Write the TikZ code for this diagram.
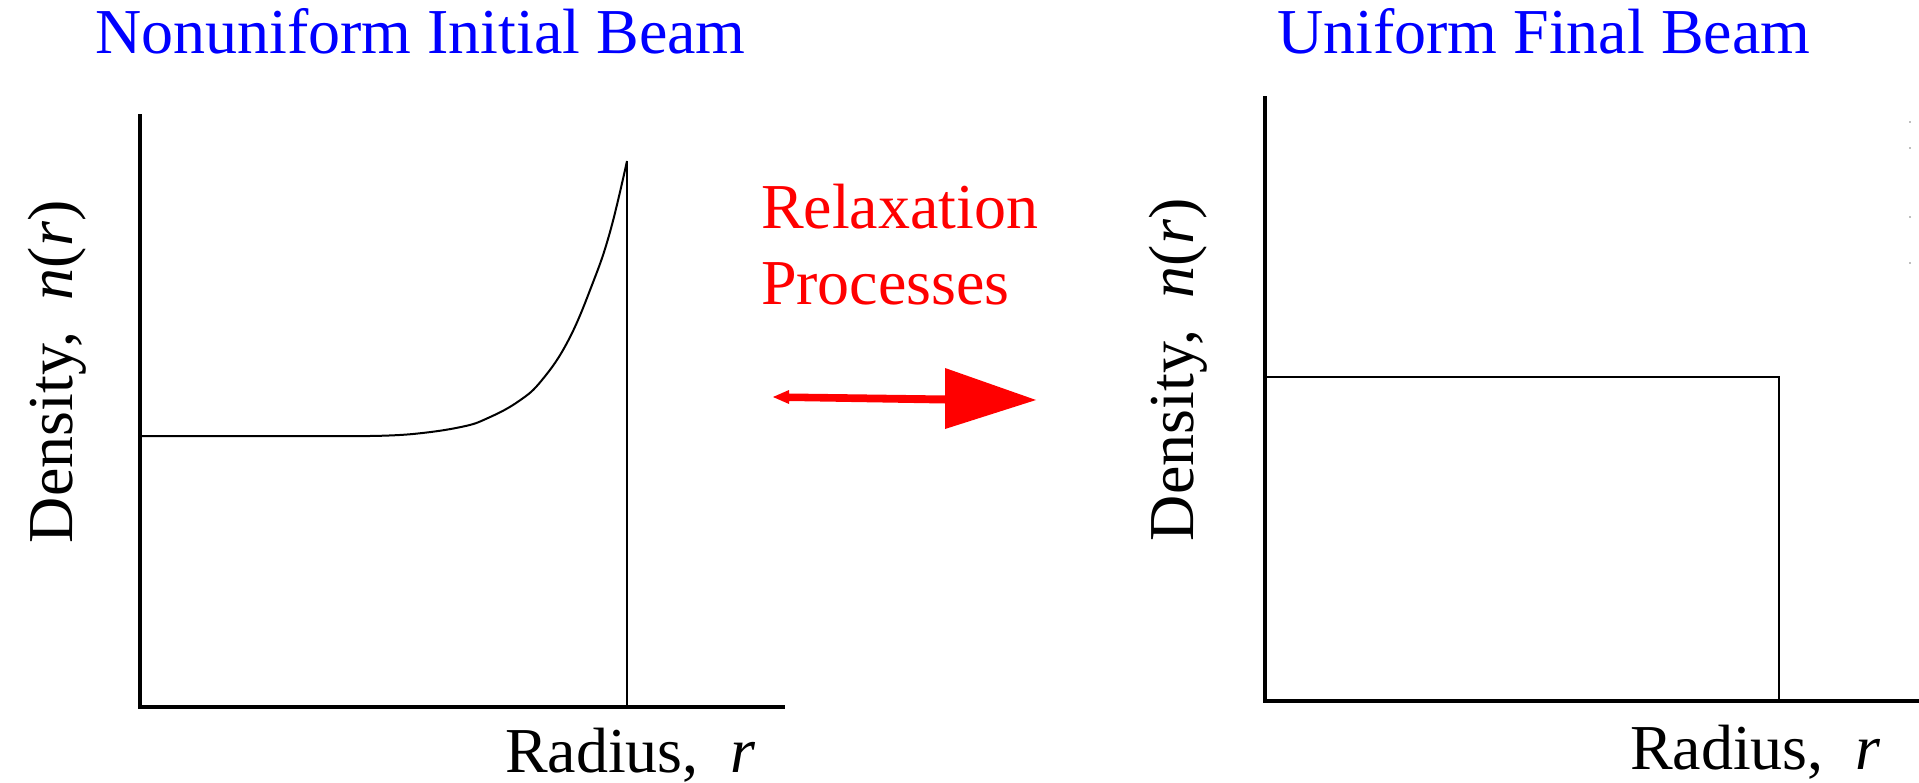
\documentclass[tikz,border=0pt]{standalone}
\usepackage{fontspec}
\setmainfont{Liberation Serif}
\definecolor{ttlblue}{RGB}{0,0,255}
\definecolor{relred}{RGB}{255,0,0}
\tikzset{
  big/.style={font=\fontsize{64}{76}\selectfont, inner sep=0pt, outer sep=0pt},
  title/.style={big, text=ttlblue, anchor=base west},
  axislabel/.style={big, text=black, anchor=base west},
  axisline/.style={line width=4pt, line cap=rect, line join=miter},
  curveline/.style={line width=2pt},
  marker/.style={fill=black!25, draw=none}
}
\begin{document}
\begin{tikzpicture}[x=1pt, y=-1pt]
\useasboundingbox (0,0) rectangle (1919,783);
% titles
\node[title] (t1) at (95,54) {Nonuniform Initial Beam};
\node[title] (t2) at (1277,54) {Uniform Final Beam};
% relaxation label
\node[big, text=relred, anchor=base west] (rl1) at (761,229) {Relaxation};
\node[big, text=relred, anchor=base west] (rl2) at (761,305) {Processes};
% left plot
\coordinate (ltop) at (140,116);
\coordinate (lorig) at (140,707);
\coordinate (lend) at (783,707);
\draw[axisline] (ltop) -- (lorig) -- (lend);
\coordinate (lpeak) at (627,161);
\coordinate (lfoot) at (627,707);
\draw[curveline] (140,436) -- (370,436)
  plot[smooth, tension=0.7] coordinates {(370,436) (413,434) (461,427) (488,418) (519,401) (542,380) (568,341) (592,285) (610,232) (627,161)};
\draw[curveline] (lpeak) -- (lfoot);
\node[axislabel] (lx) at (505,772) {Radius,\ \ \textit{r}};
\node[axislabel, rotate=90] (ly) at (72,543) {Density,\ \ \textit{n}(\textit{r})};
% right plot
\coordinate (rtop) at (1265,98);
\coordinate (rorig) at (1265,701);
\coordinate (rend) at (1919,701);
\draw[axisline] (rtop) -- (rorig) -- (rend);
\coordinate (rr1) at (1265,377);
\coordinate (rr2) at (1779,377);
\coordinate (rr3) at (1779,701);
\draw[curveline] (rr1) -- (rr2) -- (rr3);
\node[axislabel] (rx) at (1630,769) {Radius,\ \ \textit{r}};
\node[axislabel, rotate=90] (ry) at (1193,541) {Density,\ \ \textit{n}(\textit{r})};
% arrow
\coordinate (atail) at (773,397);
\coordinate (abase) at (945,399.5);
\coordinate (atip) at (1036,400);
\fill[relred] (atail) -- (789,390) -- (789,393.5) -- (945,395.5) -- (945,368) -- (atip) -- (945,429) -- (945,403.5) -- (789,401) -- (789,404) -- cycle;
% faint edge marks
\foreach \yy in {122,148,217,263}
  \fill[marker] (1909,\yy-1) rectangle (1911,\yy+1);
\end{tikzpicture}
\end{document}
